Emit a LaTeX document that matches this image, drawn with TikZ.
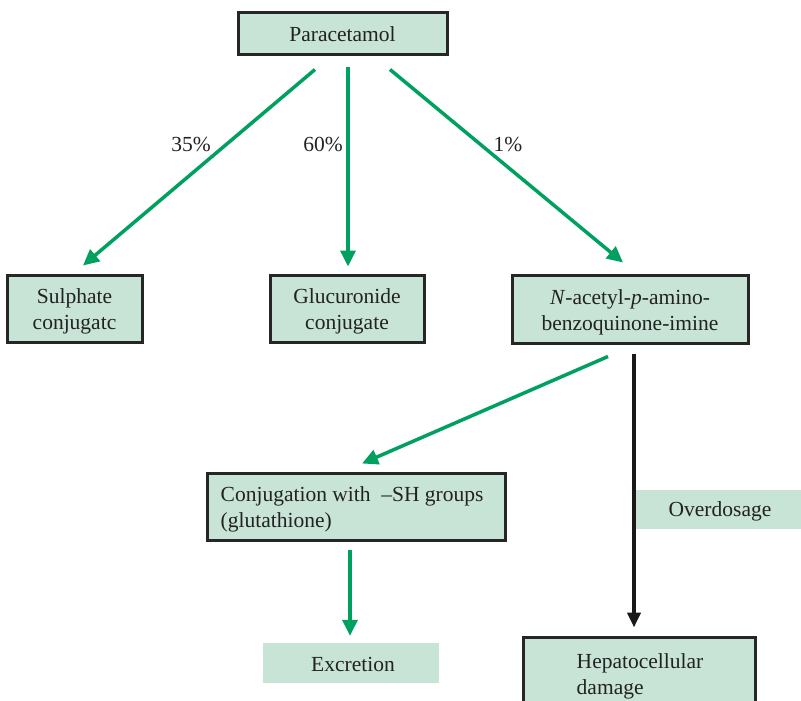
\documentclass[tikz,border=0pt]{standalone}
\usepackage{fontspec}
\setmainfont{Liberation Serif}
\usetikzlibrary{arrows.meta,calc}
\definecolor{boxfill}{HTML}{C8E4D6}
\definecolor{arrgreen}{HTML}{00A060}
\definecolor{txt}{HTML}{222222}
\begin{document}
\begin{tikzpicture}[x=1pt,y=-1pt,
  every node/.style={font=\fontsize{21.5}{26}\selectfont, text=txt},
  box/.style={draw=black!85, line width=3pt, fill=boxfill, inner sep=0pt, align=center},
  plain/.style={fill=boxfill, inner sep=0pt, align=center},
  lbl/.style={inner sep=0pt, align=center},
  garrow/.style={draw=arrgreen, line width=3.5pt, -{Triangle[length=16pt,width=15pt]}},
  karrow/.style={draw=black!90, line width=4pt, -{Triangle[length=15pt,width=13pt]}},
  pct/.style={inner sep=0pt}]
\useasboundingbox (0,0) rectangle (801,701);
% boxes
\node[box, minimum width=209pt, minimum height=42pt] (para) at (342.5,34) {Paracetamol};
\node[box, minimum width=135pt, minimum height=67pt] (sul) at (74.5,308.5) {};
\node[lbl] (sult) at ($(sul.center)+(0,3)$) {Sulphate\\conjugatc};
\node[box, minimum width=154pt, minimum height=67pt] (glu) at (347,308.5) {};
\node[lbl] (glut) at ($(glu.center)+(0,3)$) {Glucuronide\\conjugate};
\node[box, minimum width=236pt, minimum height=68pt] (nap) at (630,309) {};
\node[lbl] (napt) at ($(nap.center)+(0,3)$) {\textit{N}-acetyl-\textit{p}-amino-\\benzoquinone-imine};
\node[box, minimum width=298pt, minimum height=67pt] (conj) at (356,506.5) {};
\node[lbl, anchor=west, align=left] (conjt) at ($(conj.west)+(15,3)$) {Conjugation with \ \textendash SH groups\\(glutathione)};
\node[box, minimum width=232pt, minimum height=83pt] (hep) at (639,678.5) {};
\node[lbl, align=left] (hept) at (640,676) {Hepatocellular\\damage};
\node[plain, minimum width=165pt, minimum height=39pt] (over) at (718.5,509.5) {};
\node[lbl] (overt) at (720,511) {Overdosage};
\node[plain, minimum width=176pt, minimum height=40pt] (excr) at (351,663) {};
\node[lbl] (excrt) at (353,664) {Excretion};
% percentages
\node[pct] (p35) at (191,144) {35\%};
\node[pct] (p60) at (323,144) {60\%};
\node[pct] (p1) at (508,144) {1\%};
% connectors
\draw[garrow] ($(para.south)+(-27.5,13)$) -- ($(sul.north)+(8.5,-8)$);
\draw[garrow] ($(para.south)+(5.5,11)$) -- ($(glu.north)+(1,-7)$);
\draw[garrow] ($(para.south)+(47.5,13)$) -- ($(nap.north)+(-7,-11)$);
\draw[garrow] ($(nap.south)+(-22,12)$) -- ($(conj.north)+(6,-8)$);
\draw[garrow] ($(conj.south)+(-6,8)$) -- ($(excr.north)+(-1,-7)$);
\draw[karrow] ($(nap.south)+(4,9)$) -- ($(hep.north)+(-5,-8)$);
\end{tikzpicture}
\end{document}
